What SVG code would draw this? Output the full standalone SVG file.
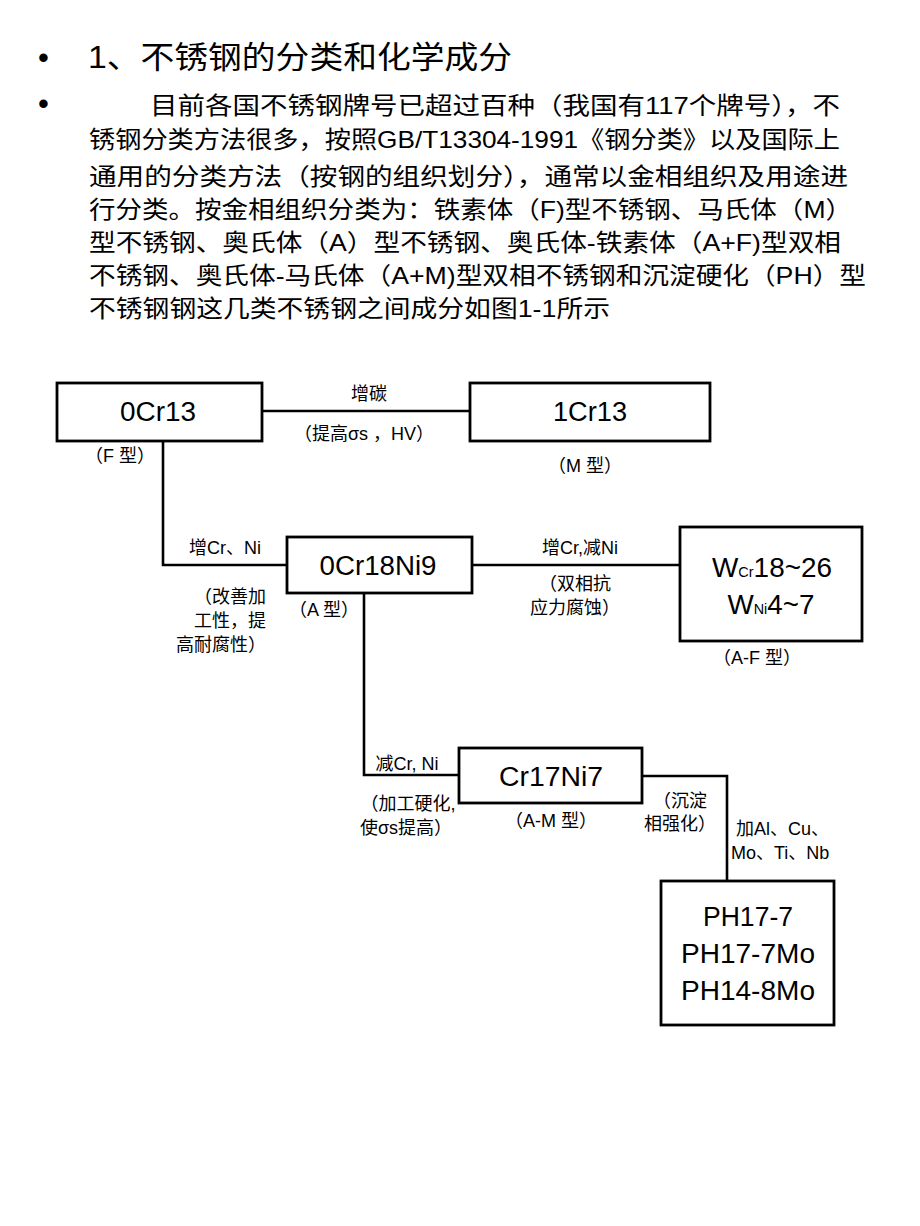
<svg xmlns="http://www.w3.org/2000/svg" width="920" height="1226" viewBox="0 0 920 1226">
<style>
text{font-family:"Liberation Sans","Noto Sans CJK SC",sans-serif;fill:#000}
.t{font-size:31px}
.p{font-size:24px}
.b{font-size:27px;text-anchor:middle}
.s{font-size:18px}
.m{text-anchor:middle}
.e{text-anchor:end}
.box{fill:#fff;stroke:#000;stroke-width:2.8}
.ln{fill:none;stroke:#000;stroke-width:2.6}
</style>
<rect width="920" height="1226" fill="#fff"/>
<g id="header">
<text class="t" x="38" y="68">•</text>
<text class="t" x="88" y="68" textLength="424" lengthAdjust="spacingAndGlyphs">1、不锈钢的分类和化学成分</text>
<text class="t" x="38" y="114">•</text>
<text class="p" x="150" y="114" textLength="690" lengthAdjust="spacingAndGlyphs">目前各国不锈钢牌号已超过百种（我国有117个牌号），不</text>
<text class="p" x="89" y="148" textLength="751" lengthAdjust="spacingAndGlyphs">锈钢分类方法很多，按照GB/T13304-1991《钢分类》以及国际上</text>
<text class="p" x="89" y="185" textLength="759" lengthAdjust="spacingAndGlyphs">通用的分类方法（按钢的组织划分），通常以金相组织及用途进</text>
<text class="p" x="89" y="218" textLength="763" lengthAdjust="spacingAndGlyphs">行分类。按金相组织分类为：铁素体（F)型不锈钢、马氏体（M）</text>
<text class="p" x="89" y="251" textLength="752" lengthAdjust="spacingAndGlyphs">型不锈钢、奥氏体（A）型不锈钢、奥氏体-铁素体（A+F)型双相</text>
<text class="p" x="89" y="284" textLength="777" lengthAdjust="spacingAndGlyphs">不锈钢、奥氏体-马氏体（A+M)型双相不锈钢和沉淀硬化（PH）型</text>
<text class="p" x="89" y="317" textLength="521" lengthAdjust="spacingAndGlyphs">不锈钢钢这几类不锈钢之间成分如图1-1所示</text>
</g>
<g id="connectors">
<path class="ln" d="M262 411H470"/>
<path class="ln" d="M163 441V565H287"/>
<path class="ln" d="M472 565H680"/>
<path class="ln" d="M364 593V775H459"/>
<path class="ln" d="M642 776H727V881"/>
</g>
<g id="labels">
<text class="s m" x="369" y="400">增碳</text>
<text class="s m" x="364" y="440">（提高σs ，HV）</text>
<text class="s m" x="120" y="462">（F 型）</text>
<text class="s m" x="585" y="472">（M 型）</text>
<text class="s m" x="225" y="554">增Cr、Ni</text>
<text class="s e" x="266" y="603">（改善加</text>
<text class="s e" x="266" y="627">工性，提</text>
<text class="s e" x="266" y="651">高耐腐性）</text>
<text class="s m" x="324" y="616">（A 型）</text>
<text class="s m" x="580" y="554">增Cr,减Ni</text>
<text class="s m" x="575" y="590">（双相抗</text>
<text class="s m" x="575" y="614">应力腐蚀）</text>
<text class="s m" x="757" y="664">（A-F 型）</text>
<text class="s m" x="407" y="770">减Cr, Ni</text>
<text class="s m" x="408" y="810">（加工硬化,</text>
<text class="s m" x="406" y="834">使σs提高）</text>
<text class="s m" x="551" y="827">（A-M 型）</text>
<text class="s m" x="680" y="807">（沉淀</text>
<text class="s m" x="680" y="830">相强化）</text>
<text class="s" x="736" y="835">加Al、Cu、</text>
<text class="s" x="731" y="859">Mo、Ti、Nb</text>
</g>
<g id="n0Cr13"><rect class="box" x="57" y="383" width="205" height="58"/><text class="b" x="158" y="421" textLength="76" lengthAdjust="spacingAndGlyphs">0Cr13</text></g>
<g id="n1Cr13"><rect class="box" x="470" y="383" width="240" height="58"/><text class="b" x="590" y="421" textLength="74" lengthAdjust="spacingAndGlyphs">1Cr13</text></g>
<g id="n0Cr18Ni9"><rect class="box" x="287" y="537" width="185" height="56"/><text class="b" x="378" y="575" textLength="117" lengthAdjust="spacingAndGlyphs">0Cr18Ni9</text></g>
<g id="nAF"><rect class="box" x="680" y="527" width="182" height="114"/>
<text class="b" x="772" y="577" textLength="120" lengthAdjust="spacingAndGlyphs">W<tspan font-size="14">Cr</tspan>18~26</text>
<text class="b" x="771" y="614" textLength="87" lengthAdjust="spacingAndGlyphs">W<tspan font-size="14">Ni</tspan>4~7</text></g>
<g id="nCr17Ni7"><rect class="box" x="459" y="748" width="183" height="55"/><text class="b" x="551" y="786" textLength="104" lengthAdjust="spacingAndGlyphs">Cr17Ni7</text></g>
<g id="nPH"><rect class="box" x="661" y="881" width="173" height="144"/>
<text class="b" x="748" y="926" textLength="90" lengthAdjust="spacingAndGlyphs">PH17-7</text>
<text class="b" x="748" y="963" textLength="134" lengthAdjust="spacingAndGlyphs">PH17-7Mo</text>
<text class="b" x="748" y="1000" textLength="134" lengthAdjust="spacingAndGlyphs">PH14-8Mo</text></g>
</svg>
